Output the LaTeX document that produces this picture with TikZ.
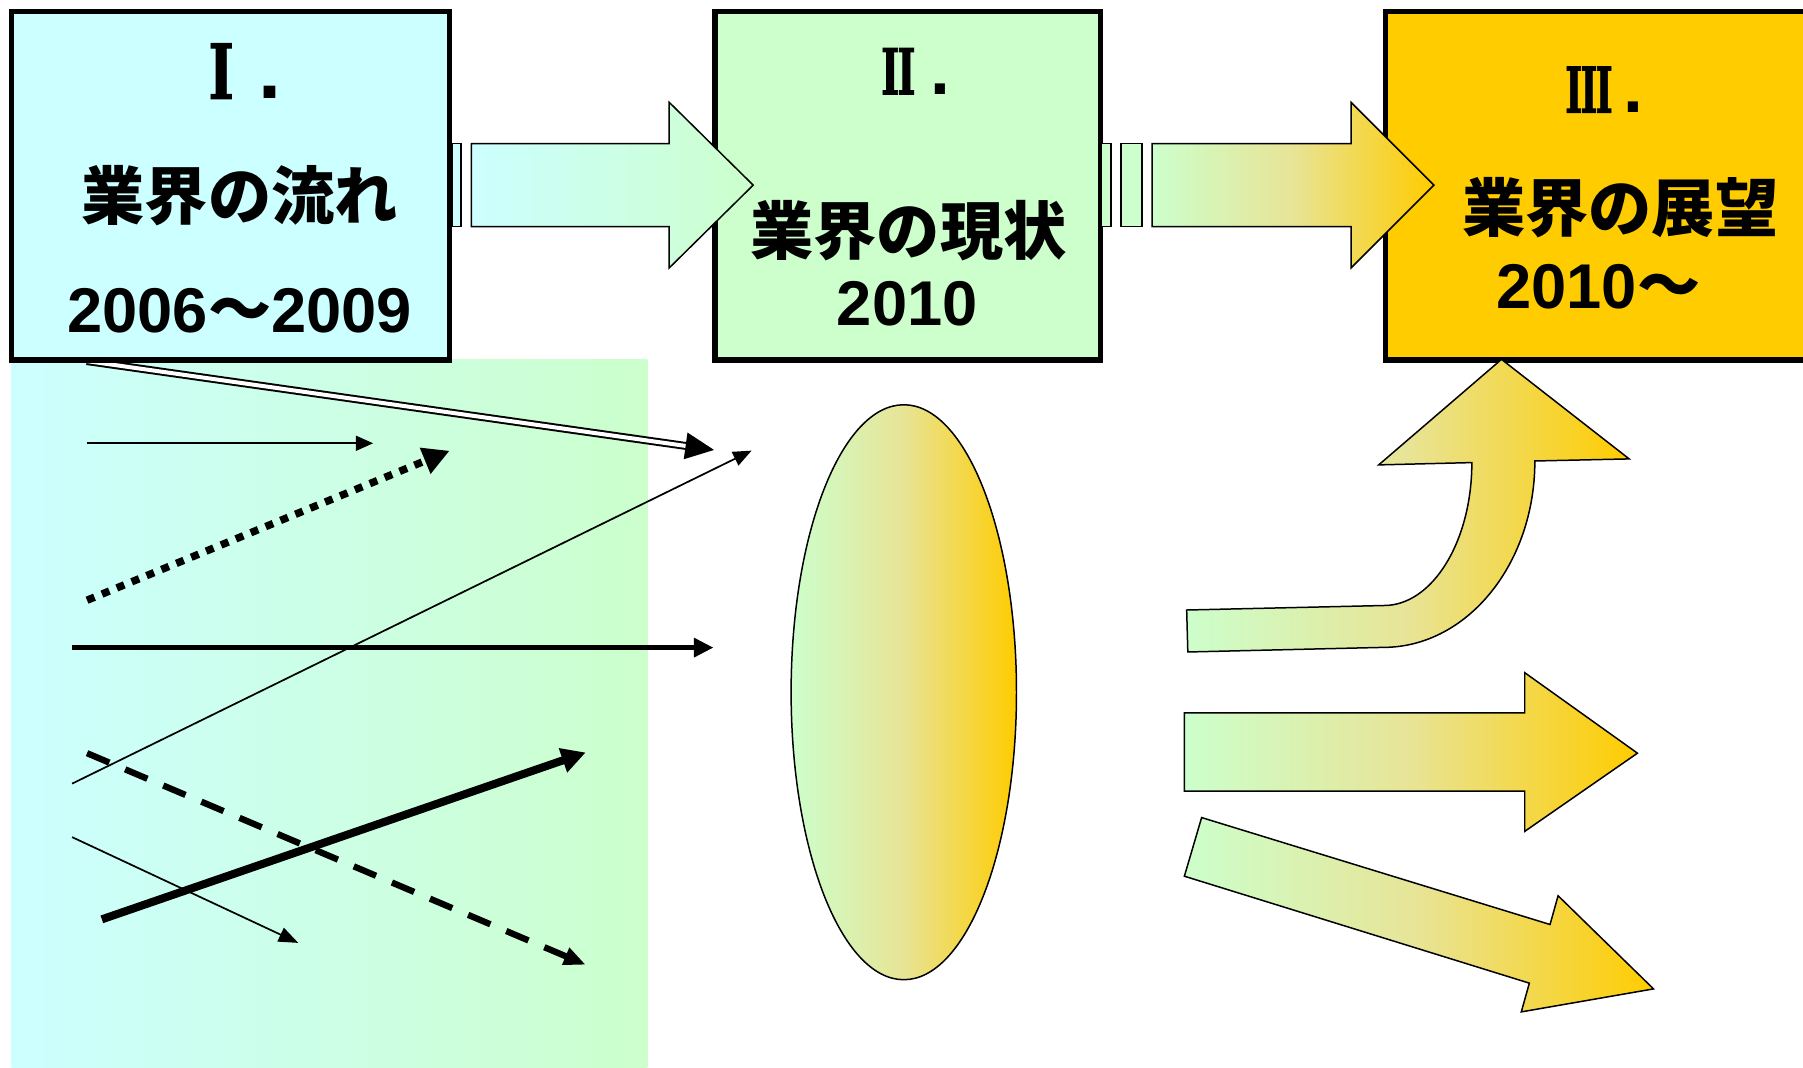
\documentclass[tikz,border=0pt]{standalone}
\usepackage{fontspec}
\setmainfont{Liberation Sans}
\newfontfamily\jp{Noto Sans CJK JP}
\newfontfamily\rom{DejaVu Serif}[BoldFeatures={FakeBold=1.5}]
\newfontfamily\sansb{Liberation Sans}
\usetikzlibrary{arrows.meta,shapes.geometric}
\definecolor{cy}{HTML}{CCFFFF}
\definecolor{gr}{HTML}{CCFFCC}
\definecolor{orng}{HTML}{FFCC00}
\definecolor{midc}{HTML}{E8E496}
\tikzset{
  box/.style={draw=black, line width=5pt, rectangle, inner sep=0pt, outer sep=0pt, anchor=north west},
  jptxt/.style={font=\jp\bfseries\fontsize{55}{60}\selectfont, inner sep=0pt, anchor=base},
  numtxt/.style={font=\bfseries\fontsize{55}{60}\selectfont, inner sep=0pt, anchor=base},
  romtxt/.style={inner sep=0pt, anchor=base west},
  blk/.style={draw=black, line width=1.3pt, line join=miter},
  ogr/.style={left color=gr, right color=orng, middle color=midc},
  thinln/.style={line width=1.5pt},
}
\begin{document}
\begin{tikzpicture}[x=1pt,y=-1pt]
\useasboundingbox (0,0) rectangle (1568,928);
\fill[white] (0,0) rectangle (1568,928);
\clip (0,0) rectangle (1568,928);

% left gradient background
\path[left color=cy, right color=gr] (10,313) rectangle (563,928);

% coordinates for line arrows
\coordinate (l1a) at (75.4,314);
\coordinate (l1b) at (621,391.3);
\coordinate (l2a) at (75.4,385.5);
\coordinate (l2b) at (324.5,385.5);
\coordinate (l3a) at (75.7,522);
\coordinate (l3b) at (391,392);
\coordinate (l4a) at (62.7,563.2);
\coordinate (l4b) at (620.5,563.2);
\coordinate (l5a) at (62.7,681.5);
\coordinate (l5b) at (653.6,391.9);
\coordinate (l6a) at (75.7,655);
\coordinate (l6b) at (509.4,839);
\coordinate (l7a) at (88.6,799.5);
\coordinate (l7b) at (509.4,654.4);
\coordinate (l8a) at (62.7,728);
\coordinate (l8b) at (259.4,820);

\draw[line width=1.7pt, double=white, double distance=3.5pt, -{Triangle[length=25pt,width=23pt]}] (l1a) -- (l1b);
\draw[thinln, -{Triangle[length=15pt,width=13pt]}] (l2a) -- (l2b);
\draw[line width=6.5pt, dash pattern=on 7pt off 7pt, -{Triangle[length=23pt,width=23pt]}] (l3a) -- (l3b);
\draw[line width=5pt, -{Triangle[length=17pt,width=16pt]}] (l4a) -- (l4b);
\draw[thinln, -{Triangle[length=16pt,width=13pt]}] (l5a) -- (l5b);
\draw[line width=5.5pt, dash pattern=on 21pt off 15pt, -{Triangle[length=19pt,width=15pt]}] (l6a) -- (l6b);
\draw[line width=7pt, -{Triangle[length=21pt,width=21pt]}] (l7a) -- (l7b);
\draw[thinln, -{Triangle[length=17pt,width=13pt]}] (l8a) -- (l8b);

% boxes
\node[box, fill=cy, minimum width=381pt, minimum height=303pt] (b1) at (10,10) {};
\node[box, fill=gr, minimum width=335pt, minimum height=303pt] (b2) at (622,10) {};
\node[box, fill=orng, minimum width=420pt, minimum height=303pt] (b3) at (1205,10) {};

% box texts
\node[romtxt, font=\fontsize{66}{72}\selectfont] (n1) at (181,86) {\rom\bfseries\scalebox{0.72}[1]{I}\hspace{21pt}{\sansb\bfseries\fontsize{72}{80}\selectfont .}};
\node[romtxt, font=\fontsize{55}{60}\selectfont] (n2) at (766,82) {\rom\bfseries\scalebox{0.62}[1]{I\kern-3pt I}\hspace{13pt}{\sansb\bfseries\fontsize{62}{66}\selectfont .}};
\node[romtxt, font=\fontsize{55}{60}\selectfont] (n3) at (1361,98) {\rom\bfseries\scalebox{0.58}[1]{I\kern-3pt I\kern-3pt I}\hspace{9pt}{\sansb\bfseries\fontsize{62}{66}\selectfont .}};

\node[jptxt] (t1) at (208.5,191) {業界の流れ};
\node[numtxt] (y1) at (208.5,289) {2006{\jp ～}2009};
\node[jptxt] (t2) at (790,221) {業界の現状};
\node[numtxt] (y2) at (789,283) {2010};
\node[jptxt] (t3) at (1409,201) {業界の展望};
\node[numtxt] (y3) at (1390,268) {2010{\jp ～}};

% top striped arrows
\draw[blk, fill=cy] (393,125) rectangle (401,197);
\draw[blk, left color=cy, right color=gr] (410,125) -- (582,125) -- (582,89) -- (655,161) -- (582,233) -- (582,197) -- (410,197) -- cycle;
\draw[blk, fill=gr] (958,125) rectangle (966,197);
\draw[blk, fill=gr] (975,125) rectangle (993,197);
\draw[blk, ogr] (1002,125) -- (1175,125) -- (1175,89) -- (1247,161) -- (1175,233) -- (1175,197) -- (1002,197) -- cycle;

% ellipse
\node[ellipse, draw=black, line width=1.3pt, minimum width=196pt, minimum height=500pt, inner sep=0pt, ogr] (el) at (786,602) {};

% right block arrows
\draw[blk, ogr] (1032,530.5) -- (1203,526.6) .. controls (1245.5,527) and (1280,471) .. (1280,402.3) -- (1199,404.3) -- (1305.8,312.5) -- (1416.8,399.1) -- (1334.8,400.9) .. controls (1334.8,490.4) and (1275.9,563) .. (1203,563) -- (1033,567) -- cycle;
\draw[blk, ogr] (1030,620) -- (1326,620) -- (1326,585) -- (1424,655) -- (1326,723) -- (1326,688) -- (1030,688) -- cycle;
\draw[blk, ogr] (1045,711) -- (1348,804) -- (1355,779) -- (1438,860) -- (1323,880) -- (1330,855) -- (1030,762) -- cycle;
\end{tikzpicture}
\end{document}
